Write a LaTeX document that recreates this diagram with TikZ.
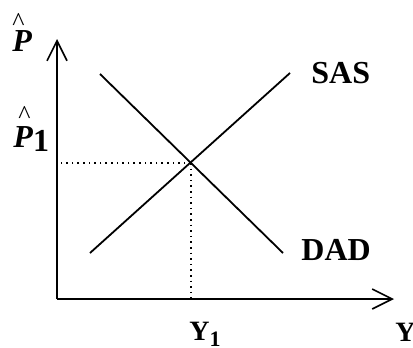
\documentclass[tikz,border=0pt]{standalone}
\usepackage{fontspec}
\setmainfont{Liberation Serif}
\usetikzlibrary{arrows.meta}

\newcommand{\hatglyph}{{\fontsize{13}{14}\selectfont\mdseries\raisebox{-3.9pt}[4.9pt][0pt]{\textasciicircum}}}

\begin{document}
\begin{tikzpicture}[x=0.5pt,y=-0.5pt,
  axis/.style={line width=1.1pt,-{Straight Barb[length=10pt,width=10pt,line width=0.8pt]}},
  curve/.style={line width=0.9pt},
  guide/.style={dotted,line width=0.8pt},
  lab/.style={font=\fontsize{16}{18}\selectfont\bfseries,inner sep=0pt}]
\useasboundingbox (0,0) rectangle (413,348);
% axes, origin at lower left corner of the frame
\coordinate (O) at (57,299);
\coordinate (ytop) at (57,39);
\coordinate (xend) at (394,299);
\draw[axis] (O) -- (ytop);
\draw[axis] (O) -- (xend);
% supply and demand lines
\coordinate (sas0) at (90,253);
\coordinate (sas1) at (290,73);
\coordinate (dad0) at (100,74);
\coordinate (dad1) at (283,253);
\draw[curve] (sas0) -- (sas1);
\draw[curve] (dad0) -- (dad1);
% equilibrium point and guides
\coordinate (E) at (191,163);
\draw[guide] (E) -- (O |- E);
\draw[guide] (E) -- (E |- O);
% line labels
\node[lab,anchor=west] (sas) at (311,73) {SAS};
\node[lab,anchor=west] (dad) at (301,250) {DAD};
% axis labels
\node[lab,align=left,anchor=south west] (p) at (12,52) {\hatglyph\\[-3.5pt]\textit{P}};
\node[lab,align=left,anchor=south west] (p1) at (13,152) {\hspace{2.5pt}\hatglyph\\[-2pt]\textit{P}\raisebox{-2pt}{1}};
\node[lab,anchor=west,font=\fontsize{14}{16}\selectfont\bfseries] (y1) at (189,334) {Y\raisebox{-3pt}{\fontsize{11}{12}\selectfont 1}};
\node[lab,anchor=west,font=\fontsize{14}{16}\selectfont\bfseries] (y) at (395,332) {Y};
\end{tikzpicture}
\end{document}
